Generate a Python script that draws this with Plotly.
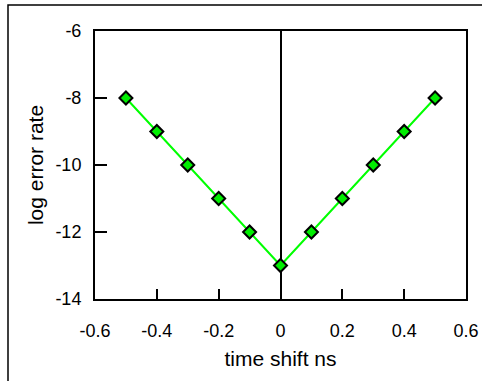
import plotly.graph_objects as go

# time shift (ns) vs. log10 of the measured error rate
time_shift = [-0.5, -0.4, -0.3, -0.2, -0.1, 0.0, 0.1, 0.2, 0.3, 0.4, 0.5]
log_error = [-8, -9, -10, -11, -12, -13, -12, -11, -10, -9, -8]

x_ticks = [-0.6, -0.4, -0.2, 0, 0.2, 0.4, 0.6]
x_labels = ["-0.6", "-0.4", "-0.2", "0", "0.2", "0.4", "0.6"]
y_ticks = [-14, -12, -10, -8, -6]
y_labels = ["-14", "-12", "-10", "-8", "-6"]

W, H = 482, 381
L, R, T, B = 95, 16, 31, 82
pw, ph = W - L - R, H - T - B

fig = go.Figure()
fig.add_trace(go.Scatter(
    x=time_shift, y=log_error, mode="lines+markers",
    line=dict(color="#00ff00", width=2),
    marker=dict(symbol="diamond", size=10, color="#00ee00",
                line=dict(color="black", width=2)),
    showlegend=False,
))

font = dict(family="Liberation Sans, Arial, sans-serif", color="black")

fig.update_layout(
    width=W, height=H,
    margin=dict(l=L, r=R, t=T, b=B, pad=0),
    paper_bgcolor="white", plot_bgcolor="white",
    font=dict(**font, size=18),
    xaxis=dict(
        range=[-0.6, 0.6], tickvals=x_ticks, ticktext=x_labels,
        showgrid=False, zeroline=True, zerolinecolor="black", zerolinewidth=1.5,
        showline=True, linecolor="black", linewidth=2, mirror=True,
        ticks="inside", ticklen=10, tickwidth=1.5, tickcolor="black",
        ticklabelstandoff=14,
        title=dict(text="time shift ns", font=dict(size=21), standoff=12),
        automargin=False,
    ),
    yaxis=dict(
        range=[-14, -6], tickvals=y_ticks, ticktext=y_labels,
        showgrid=False, zeroline=False,
        showline=True, linecolor="black", linewidth=2, mirror=True,
        ticks="inside", ticklen=12, tickwidth=1.5, tickcolor="black",
        ticklabelstandoff=8,
        title=dict(text="log error rate", font=dict(size=21), standoff=6),
        automargin=False,
    ),
    shapes=[dict(
        type="rect", xref="paper", yref="paper",
        x0=(8 - L) / pw, x1=(W + 20 - L) / pw,
        y0=-(H + 20 - T - ph) / ph, y1=(H - B - 5) / ph,
        line=dict(color="black", width=1.5), fillcolor="rgba(0,0,0,0)",
        layer="below",
    )],
)

fig.write_html("out.html")
